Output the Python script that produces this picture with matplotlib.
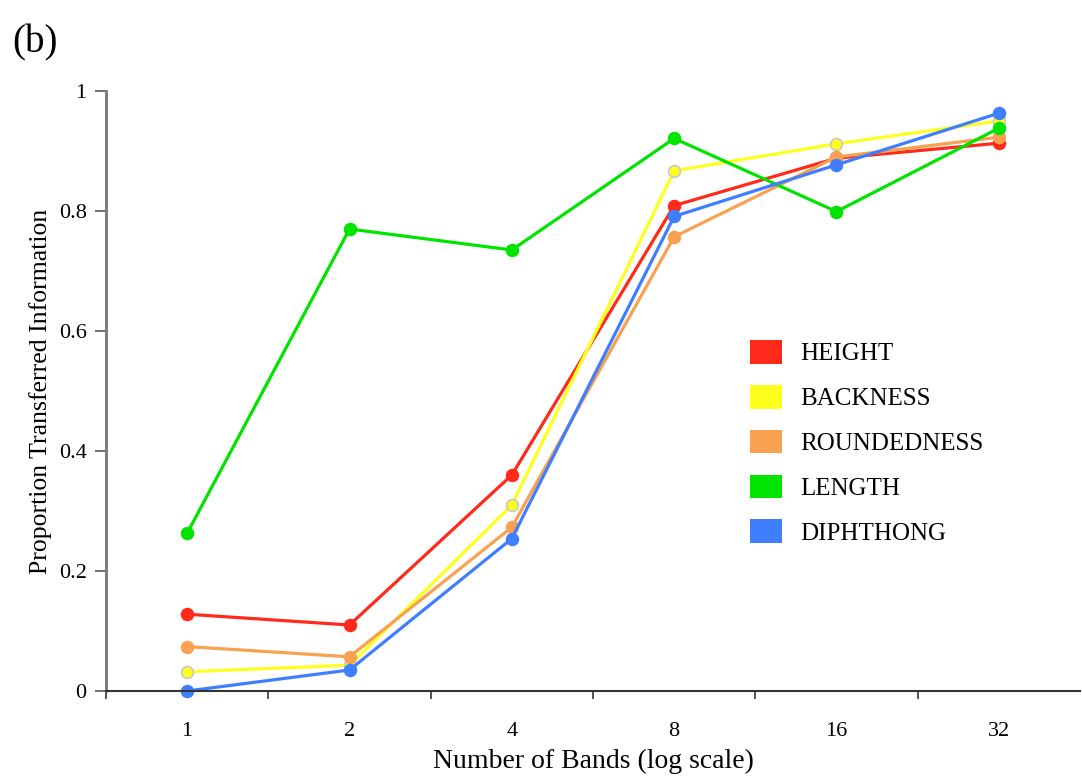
import matplotlib
matplotlib.use('Agg')
import matplotlib.pyplot as plt
from matplotlib.patches import Patch

plt.rcParams['font.family'] = ['Liberation Serif', 'DejaVu Serif']

bands = ['1', '2', '4', '8', '16', '32']
height = [0.128, 0.110, 0.360, 0.809, 0.888, 0.913]
backness = [0.032, 0.043, 0.310, 0.867, 0.912, 0.950]
roundedness = [0.074, 0.057, 0.273, 0.757, 0.890, 0.923]
length = [0.263, 0.770, 0.735, 0.921, 0.799, 0.938]
diphthong = [0.000, 0.035, 0.254, 0.791, 0.877, 0.963]

names = ['HEIGHT', 'BACKNESS', 'ROUNDEDNESS', 'LENGTH', 'DIPHTHONG']
series = [height, backness, roundedness, length, diphthong]
colors = ['#ff2a1a', '#ffff1e', '#f9a150', '#00e400', '#3f7fff']
edges = ['#ff2a1a', '#c8c8c8', '#f9a150', '#00e400', '#3f7fff']

fig = plt.figure(figsize=(10.82, 7.76), dpi=100)
ax = fig.add_axes([106/1082, 1 - 691/776, (1080 - 106)/1082, 600/776])

x = list(range(len(bands)))
for vals, c, ec in zip(series, colors, edges):
    ax.plot(x, vals, '-o', color=c, lw=2.3, ms=8.5, mfc=c, mec=ec, mew=1.2, clip_on=False)

ax.set_xlim(-0.5, len(bands) - 0.5)
ax.set_ylim(0, 1)
ax.set_xticks(x)
ax.set_xticklabels(bands)
ax.set_xticks([i + 0.5 for i in range(len(bands) - 1)] + [-0.5], minor=True)
ax.tick_params(axis='x', which='major', length=0, pad=22, labelsize=16)
ax.tick_params(axis='x', which='minor', length=6, width=1.2, color='#333333', direction='out')
ax.set_yticks([0, 0.2, 0.4, 0.6, 0.8, 1])
ax.set_yticklabels(['0', '0.2', '0.4', '0.6', '0.8', '1'])
ax.tick_params(axis='y', length=8, width=1.2, color='#555555', labelsize=16, pad=6)

for s in ['top', 'right']:
    ax.spines[s].set_visible(False)
ax.spines['left'].set_color('#777777')
ax.spines['left'].set_linewidth(2)
ax.spines['bottom'].set_color('#333333')
ax.spines['bottom'].set_linewidth(1.5)

ax.set_xlabel('Number of Bands (log scale)', fontsize=20, labelpad=6)
ax.set_ylabel('Proportion Transferred Information', fontsize=18.5)
ax.yaxis.set_label_coords(-0.055, 0.5)

handles = [Patch(facecolor=c, edgecolor='none') for c in colors]
ax.legend(handles, names, loc='upper left', bbox_to_anchor=(750/1082, 1 - 340/776),
          bbox_transform=fig.transFigure, frameon=False, fontsize=18,
          handlelength=1.28, handleheight=1.08, handletextpad=0.72, labelspacing=0.78,
          borderpad=0, borderaxespad=0)

fig.text(12/1082, 1 - 52/776, '(b)', fontsize=28, va='baseline')

fig.savefig('out.png', dpi=100)
